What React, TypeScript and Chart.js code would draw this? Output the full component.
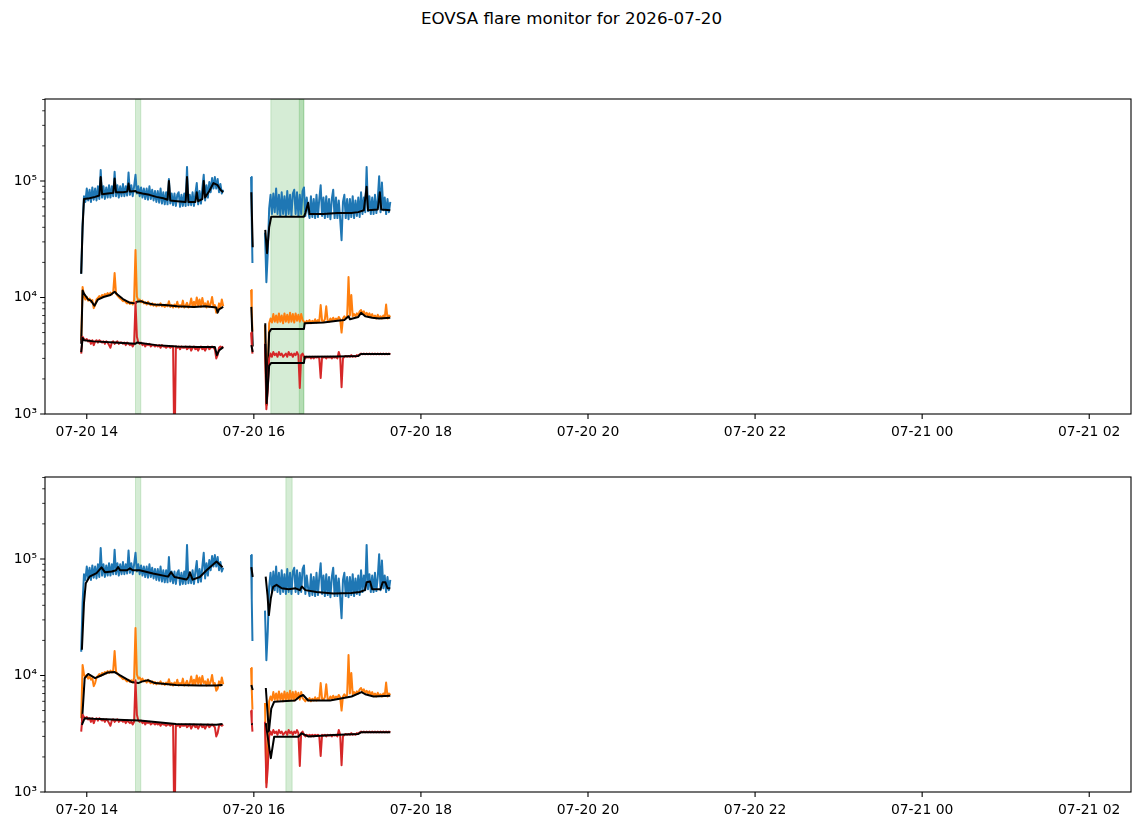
import React, { useEffect, useRef } from 'react';
import { Chart, registerables } from 'chart.js';

Chart.register(...registerables);

// times are minutes after 2026-07-20 00:00 UT, raw samples one per minute
const SEG1_START = 836;
const SEG3_START = 968;
const seg2Minutes = [958.0, 958.5, 959.0];

// raw total power (thousands)
const blueSeg1 = [
  16, 42, 74, 66, 86, 68, 84, 66, 88, 69,
  86, 68, 90, 70, 124, 72, 90, 70, 88, 72,
  92, 72, 90, 74, 120, 74, 92, 72, 90, 74,
  94, 74, 90, 75, 118, 76, 92, 74, 90, 113,
  78, 90, 74, 88, 72, 86, 70, 86, 69, 90,
  70, 84, 68, 82, 66, 82, 65, 86, 64, 80,
  63, 80, 63, 104, 64, 78, 62, 78, 61, 76,
  80, 60, 76, 61, 78, 61, 132, 62, 76, 62,
  80, 61, 78, 96, 63, 82, 64, 86, 113, 68,
  92, 72, 98, 80, 106, 86, 108, 86, 104, 80,
  94, 78, 84,
];
const blueSeg2 = [108, 45, 19.8];
const blueSeg3 = [
  36, 13.5, 24, 58, 76, 52, 78, 54, 86, 52,
  76, 50, 80, 52, 74, 50, 82, 52, 76, 50,
  78, 84, 52, 80, 50, 76, 52, 82, 88, 50,
  72, 56, 48, 74, 49, 70, 48, 76, 49, 70,
  92, 50, 72, 48, 74, 49, 70, 47, 70, 84,
  48, 72, 48, 68, 47, 31, 66, 76, 48, 70,
  47, 70, 49, 74, 48, 68, 50, 72, 49, 80,
  52, 72, 54, 132, 55, 74, 52, 72, 52, 76,
  53, 70, 110, 54, 97, 56, 72, 52, 70, 54,
  66,
];

const orangeSeg1 = [
  4.3, 12.3, 10.2, 9.6, 10.1, 9.4, 9.8, 9.2, 9.5, 8.1,
  8.6, 9.6, 9.9, 10.3, 9.9, 10.5, 10.2, 10.7, 10.4, 10.9,
  10.5, 11.0, 10.6, 11.1, 16.2, 10.8, 10.4, 10.1, 9.8, 9.6,
  9.3, 9.5, 9.1, 8.9, 9.2, 8.8, 9.1, 8.7, 9.5, 25.6,
  10.2, 9.4, 9.6, 9.1, 9.4, 8.9, 9.1, 8.7, 9.2, 8.8,
  8.6, 8.9, 8.5, 8.8, 8.4, 8.7, 8.5, 8.9, 8.4, 8.6,
  8.3, 8.7, 8.4, 9.3, 8.3, 8.6, 8.2, 8.7, 8.3, 9.2,
  8.2, 8.6, 8.3, 9.4, 8.2, 8.5, 9.0, 8.2, 8.6, 9.8,
  8.3, 9.2, 8.4, 10.0, 8.5, 9.6, 8.3, 9.9, 8.6, 8.9,
  8.2, 9.3, 8.3, 8.8, 10.1, 8.4, 8.6, 7.4, 7.7, 8.9,
  8.2, 9.6, 8.4,
];
const orangeSeg2 = [11.6, 7.5, 5.1];
const orangeSeg3 = [
  5.8, 1.2, 2.5, 6.0, 6.6, 6.1, 7.2, 6.2, 7.0, 6.1,
  7.3, 6.2, 7.0, 6.0, 7.3, 6.2, 7.1, 6.1, 7.4, 6.2,
  7.2, 6.1, 7.3, 6.3, 7.1, 6.2, 7.2, 6.4, 6.2, 6.0,
  6.3, 6.1, 6.4, 6.0, 6.3, 6.1, 6.5, 6.1, 6.4, 6.2,
  8.6, 6.3, 6.2, 6.5, 8.4, 6.3, 6.2, 6.6, 6.3, 6.7,
  6.3, 6.6, 6.4, 6.8, 6.5, 5.0, 6.6, 6.9, 6.6, 6.8,
  15.0, 7.0, 10.5, 6.9, 7.2, 6.9, 7.3, 7.0, 7.6, 7.8,
  7.3, 7.6, 7.1, 7.4, 7.0, 7.3, 6.8, 7.2, 6.7, 7.0,
  6.6, 7.1, 6.7, 6.9, 6.6, 7.0, 6.7, 8.7, 6.6, 7.0,
  6.8,
];

const redSeg1 = [
  3.3, 4.6, 4.4, 4.3, 4.4, 4.2, 4.3, 4.0, 4.3, 3.9,
  4.2, 4.3, 4.1, 4.3, 4.2, 4.1, 4.2, 4.0, 4.2, 4.1,
  3.9, 3.7, 4.1, 4.2, 4.0, 4.1, 4.2, 4.0, 4.1, 4.1,
  4.0, 4.1, 3.9, 4.1, 4.0, 3.9, 4.0, 3.8, 4.0, 9.1,
  4.6, 4.1, 4.0, 4.1, 3.9, 4.0, 3.8, 4.0, 3.9, 4.0,
  3.8, 3.9, 3.9, 3.8, 3.9, 3.8, 3.9, 3.7, 3.9, 3.8,
  3.8, 3.7, 3.8, 3.8, 3.7, 3.8, 3.8, 0.4, 3.8, 3.7,
  3.8, 3.6, 3.8, 3.7, 3.7, 3.8, 3.6, 3.7, 3.8, 3.5,
  3.7, 3.8, 3.6, 3.7, 3.5, 3.7, 3.8, 3.6, 3.7, 3.5,
  3.7, 3.8, 3.6, 3.7, 3.8, 3.7, 3.6, 3.0, 3.2, 3.7,
  3.8, 3.7, 3.8,
];
const redSeg2 = [5.0, 4.0, 3.3];
const redSeg3 = [
  4.0, 1.1, 1.6, 3.0, 3.3, 3.1, 3.4, 3.2, 3.3, 3.1,
  3.4, 3.2, 3.3, 3.1, 3.2, 3.3, 3.1, 3.4, 3.2, 3.3,
  3.1, 3.3, 3.2, 3.4, 3.2, 1.67, 3.2, 3.3, 3.1, 3.0,
  3.1, 3.05, 3.1, 3.0, 3.1, 3.0, 3.1, 3.05, 3.1, 3.0,
  2.04, 3.1, 3.05, 3.1, 3.0, 3.1, 3.05, 3.1, 3.0, 3.1,
  3.05, 3.1, 3.0, 3.4, 3.1, 1.7, 3.0, 3.1, 3.15, 3.1,
  3.15, 3.1, 3.2, 3.1, 3.15, 3.1, 3.2, 3.15, 3.25, 3.3,
  3.25, 3.3, 3.25, 3.3, 3.25, 3.3, 3.25, 3.3, 3.25, 3.3,
  3.25, 3.3, 3.25, 3.3, 3.25, 3.3, 3.25, 3.3, 3.25, 3.3,
  3.25,
];

// background curves: [minute, thousands] per segment
const topBlueBg = [
  [[836, 16], [837, 40], [838, 70], [842, 71], [846, 73], [849, 75], [850, 108], [851, 77], [855, 78], [859, 79], [860, 105], [861, 80], [866, 80], [869, 81], [870, 95], [871, 81], [875, 82], [876, 80], [880, 78], [885, 76], [890, 73], [895, 71], [898, 69], [899, 100], [900, 68], [905, 67], [911, 66], [912, 108], [913, 66], [918, 66], [919, 80], [920, 67], [923, 70], [924, 100], [925, 72], [928, 82], [931, 96], [934, 92], [936, 84], [938, 80]],
  [[958.2, 80], [959.2, 27]],
  [[968.2, 38], [969.5, 24], [971, 40], [972.5, 49.4], [996, 49.4], [997, 53], [999, 65], [1000, 52], [1010, 52], [1020, 53], [1030, 53], [1035, 54], [1039, 56], [1041, 89], [1042, 56], [1049, 57], [1050.5, 80], [1051.5, 57], [1058, 56]],
];
const topOrangeBg = [
  [[836, 4.0], [837, 11.5], [838, 10.8], [841, 9.6], [843, 9.4], [845.5, 8.5], [848, 9.6], [852, 10.1], [857, 10.5], [860, 11.2], [862, 10.6], [866, 9.7], [871, 9.0], [875, 8.9], [876, 9.2], [879, 9.3], [882, 9.0], [888, 8.7], [896, 8.6], [905, 8.4], [917, 8.3], [925, 8.4], [930, 8.3], [933, 8.2], [934, 7.4], [935, 7.9], [938, 8.3]],
  [[958.2, 8.3], [959.2, 3.8]],
  [[968.2, 6.0], [969.2, 1.2], [971, 5.0], [972.5, 5.37], [996, 5.37], [996.5, 6.0], [1010, 6.1], [1020, 6.3], [1025, 6.4], [1028, 6.9], [1029, 6.5], [1035, 6.8], [1037, 7.4], [1040, 6.9], [1045, 6.7], [1050, 6.6], [1058, 6.7]],
];
const topRedBg = [
  [[836, 3.4], [837, 4.5], [838, 4.3], [845, 4.2], [860, 4.1], [875, 4.0], [876, 4.1], [890, 3.9], [905, 3.8], [920, 3.75], [932, 3.75], [933.5, 3.2], [935, 3.5], [938, 3.75]],
  [[958.2, 3.9], [959.2, 3.4]],
  [[968.2, 4.0], [969.2, 1.24], [971, 2.6], [972.5, 2.74], [996, 2.74], [996.5, 3.1], [1020, 3.12], [1035, 3.15], [1037, 3.27], [1058, 3.27]],
];
const botBlueBg = [
  [[836.5, 16.6], [838, 42], [839.3, 62], [842, 70.5], [847, 75.5], [850.6, 84.6], [853, 77], [858, 78], [861, 80], [862.5, 85], [864, 80], [869, 80], [871, 83], [873, 80], [878, 80], [887.6, 75], [898.4, 70.5], [900.5, 77], [903, 70], [911.6, 66.5], [913, 70], [914, 77], [916, 66.5], [921.2, 70], [926, 80], [933.2, 95], [937.5, 85]],
  [[958.2, 85], [959.2, 70]],
  [[968.5, 70.5], [969.8, 49], [970.8, 33], [972.2, 46], [973.9, 57.7], [976.3, 60], [980, 56], [985, 55], [990, 56], [993, 54], [994.5, 58], [997, 54], [1005, 52], [1017, 50.6], [1030, 51], [1036, 52], [1039.8, 54], [1041, 63], [1043.5, 64], [1045, 55], [1051, 55], [1052.5, 63], [1054.5, 63], [1056, 56], [1058, 56]],
];
const botOrangeBg = [
  [[836.5, 3.9], [838.5, 9.5], [841, 10.3], [846, 9.5], [849.5, 9.9], [855, 10.6], [860, 10.7], [864, 10.0], [872, 8.8], [877, 8.6], [880, 8.9], [884, 9.1], [889, 8.6], [904, 8.3], [921, 8.2], [933, 8.2], [937.5, 8.3]],
  [[958.2, 8.3], [959.2, 7.5]],
  [[968.6, 7.8], [970.8, 3.3], [972.5, 5.2], [974.6, 5.95], [989.5, 6.1], [993, 6.6], [995.4, 6.8], [999, 6.1], [1014.7, 6.1], [1030.2, 6.6], [1037.4, 7.2], [1040, 6.9], [1046, 6.6], [1058, 6.7]],
];
const botRedBg = [
  [[836.5, 3.77], [838.5, 4.3], [845, 4.25], [867, 4.15], [878, 4.1], [904, 3.83], [933, 3.77], [937.5, 3.83]],
  [[958.2, 3.85], [959.2, 3.8]],
  [[968.6, 3.9], [970.8, 2.53], [972.2, 1.95], [974.6, 2.98], [991.9, 2.98], [994.3, 3.19], [999, 3.0], [1017, 3.09], [1035, 3.15], [1037, 3.25], [1058, 3.25]],
];

// flare intervals [start, end] in minutes
const topSpans = [[875, 878.8], [972.2, 995.9], [992.6, 995.9]];
const botSpans = [[875, 878.8], [983, 987.5]];

const xTickMinutes = [840, 960, 1080, 1200, 1320, 1440, 1560];
const xTickLabels = ['07-20 14', '07-20 16', '07-20 18', '07-20 20', '07-20 22', '07-21 00', '07-21 02'];
const yMajorTicks = [1e3, 1e4, 1e5];
const yTickLabels = ['10³', '10⁴', '10⁵'];
const yMinorTicks = [2e3, 3e3, 4e3, 5e3, 6e3, 7e3, 8e3, 9e3, 2e4, 3e4, 4e4, 5e4, 6e4, 7e4, 8e4, 9e4, 2e5, 3e5, 4e5, 5e5];

const BLUE = '#1f77b4';
const ORANGE = '#ff7f0e';
const RED = '#d62728';
const SPAN = 'rgba(44, 160, 44, 0.2)';
const FONT = 'DejaVu Sans';

type XY = { x: number; y: number | null };

function rawSeries(s1: number[], s2: number[], s3: number[]): XY[] {
  return [
    ...s1.map((v, i) => ({ x: SEG1_START + i, y: v * 1000 })),
    { x: 948, y: null },
    ...s2.map((v, i) => ({ x: seg2Minutes[i], y: v * 1000 })),
    { x: 963, y: null },
    ...s3.map((v, i) => ({ x: SEG3_START + i, y: v * 1000 })),
  ];
}

function bgSeries(segs: number[][][]): XY[] {
  const out: XY[] = [];
  segs.forEach((seg, k) => {
    if (k > 0) out.push({ x: (out[out.length - 1].x + seg[0][0]) / 2, y: null });
    seg.forEach(([t, v]) => out.push({ x: t, y: v * 1000 }));
  });
  return out;
}

const spanPlugin = {
  id: 'flareSpans',
  beforeDatasetsDraw(chart: any, _args: any, opts: any) {
    const { ctx, chartArea: a } = chart;
    const xs = chart.scales.x;
    ctx.save();
    ctx.beginPath();
    ctx.rect(a.left, a.top, a.right - a.left, a.bottom - a.top);
    ctx.clip();
    ctx.fillStyle = SPAN;
    ctx.strokeStyle = SPAN;
    ctx.lineWidth = 1;
    (opts.ranges || []).forEach(([t0, t1]: number[]) => {
      const p0 = xs.getPixelForValue(t0);
      const p1 = xs.getPixelForValue(t1);
      ctx.fillRect(p0, a.top, p1 - p0, a.bottom - a.top);
      ctx.strokeRect(p0, a.top, p1 - p0, a.bottom - a.top);
    });
    ctx.restore();
  },
};

const framePlugin = {
  id: 'axesFrame',
  afterDraw(chart: any) {
    const { ctx, chartArea: a } = chart;
    const xs = chart.scales.x;
    const ys = chart.scales.y;
    ctx.save();
    ctx.strokeStyle = '#000';
    ctx.lineWidth = 1.1;
    ctx.strokeRect(a.left, a.top, a.right - a.left, a.bottom - a.top);
    ctx.beginPath();
    xTickMinutes.forEach((t) => {
      const px = xs.getPixelForValue(t);
      ctx.moveTo(px, a.bottom);
      ctx.lineTo(px, a.bottom + 4.9);
    });
    yMajorTicks.forEach((v) => {
      const py = ys.getPixelForValue(v);
      ctx.moveTo(a.left, py);
      ctx.lineTo(a.left - 4.9, py);
    });
    ctx.stroke();
    ctx.lineWidth = 0.8;
    ctx.beginPath();
    yMinorTicks.forEach((v) => {
      const py = ys.getPixelForValue(v);
      ctx.moveTo(a.left, py);
      ctx.lineTo(a.left - 2.8, py);
    });
    ctx.stroke();
    ctx.restore();
  },
};

interface PanelProps {
  top: number;
  height: number;
  padTop: number;
  axisHeight: number;
  blueBg: number[][][];
  orangeBg: number[][][];
  redBg: number[][][];
  spans: number[][];
}

const line = (data: XY[], color: string) => ({
  data,
  borderColor: color,
  borderWidth: 2,
  pointRadius: 0,
  borderJoinStyle: 'round',
  fill: false,
  tension: 0,
  clip: 0,
});

const Panel: React.FC<PanelProps> = ({ top, height, padTop, axisHeight, blueBg, orangeBg, redBg, spans }) => {
  const canvasRef = useRef<HTMLCanvasElement | null>(null);

  useEffect(() => {
    if (!canvasRef.current) return;
    const ctx = canvasRef.current.getContext('2d');
    if (!ctx) return;

    const chart = new Chart(ctx, {
      type: 'line',
      data: {
        datasets: [
          line(bgSeries(redBg), '#000'),
          line(rawSeries(redSeg1, redSeg2, redSeg3), RED),
          line(bgSeries(orangeBg), '#000'),
          line(rawSeries(orangeSeg1, orangeSeg2, orangeSeg3), ORANGE),
          line(bgSeries(blueBg), '#000'),
          line(rawSeries(blueSeg1, blueSeg2, blueSeg3), BLUE),
        ] as any,
      },
      options: {
        animation: false,
        responsive: false,
        layout: { padding: { top: padTop, right: 12, left: 0, bottom: 0 } },
        plugins: {
          legend: { display: false },
          tooltip: { enabled: false },
          flareSpans: { ranges: spans },
        } as any,
        scales: {
          x: {
            type: 'linear',
            min: 810,
            max: 1590,
            grid: { display: false, drawTicks: false },
            border: { display: false },
            afterBuildTicks: (s: any) => {
              s.ticks = xTickMinutes.map((v) => ({ value: v }));
            },
            afterFit: (s: any) => {
              s.height = axisHeight;
            },
            ticks: {
              autoSkip: false,
              maxRotation: 0,
              padding: 10,
              color: '#000',
              font: { family: FONT, size: 13.9 },
              callback: (v: any) => {
                const i = xTickMinutes.indexOf(Number(v));
                return i >= 0 ? xTickLabels[i] : '';
              },
            },
          },
          y: {
            type: 'logarithmic',
            min: 1000,
            max: 5.05e5,
            grid: { display: false, drawTicks: false },
            border: { display: false },
            afterBuildTicks: (s: any) => {
              s.ticks = [...yMajorTicks, ...yMinorTicks]
                .sort((a, b) => a - b)
                .map((v) => ({ value: v }));
            },
            afterFit: (s: any) => {
              s.width = 45;
            },
            ticks: {
              autoSkip: false,
              padding: 8,
              color: '#000',
              font: { family: FONT, size: 13.9 },
              callback: (v: any) => {
                const i = yMajorTicks.indexOf(Number(v));
                return i >= 0 ? yTickLabels[i] : '';
              },
            },
          },
        } as any,
      },
      plugins: [spanPlugin, framePlugin],
    });

    return () => {
      chart.destroy();
    };
  }, [padTop, axisHeight, blueBg, orangeBg, redBg, spans]);

  return (
    <div style={{ position: 'absolute', left: 0, top, width: 1143, height }}>
      <canvas ref={canvasRef} width={1143} height={height} style={{ display: 'block', width: 1143, height }} />
    </div>
  );
};

const App: React.FC = () => (
  <div style={{ position: 'absolute', left: 0, top: 0, width: 1143, height: 826, background: '#fff', overflow: 'hidden' }}>
    <div
      style={{
        position: 'absolute',
        left: 0,
        top: 8,
        width: 1143,
        textAlign: 'center',
        fontFamily: FONT,
        fontSize: 16.7,
        lineHeight: '20px',
        color: '#000',
      }}
    >
      EOVSA flare monitor for 2026-07-20
    </div>
    <Panel top={0} height={445} padTop={99} axisHeight={31} blueBg={topBlueBg} orangeBg={topOrangeBg} redBg={topRedBg} spans={topSpans} />
    <Panel top={445} height={381} padTop={32} axisHeight={34} blueBg={botBlueBg} orangeBg={botOrangeBg} redBg={botRedBg} spans={botSpans} />
  </div>
);

export default App;
